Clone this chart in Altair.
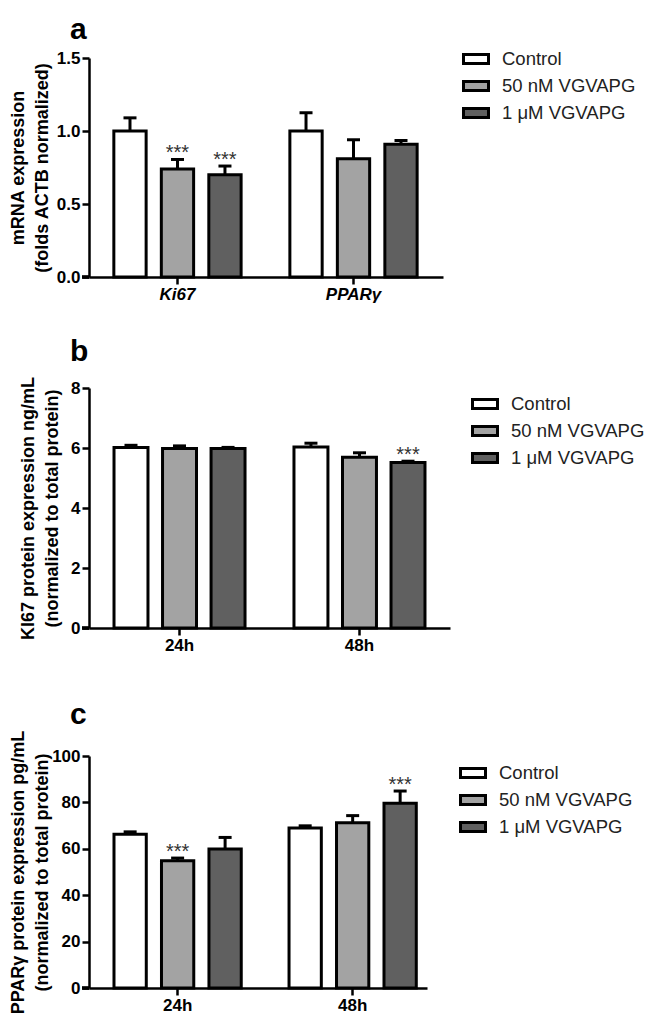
import altair as alt
import pandas as pd

GROUPS = ["Control", "50 nM VGVAPG", "1 μM VGVAPG"]
COLORS = ["#ffffff", "#a3a3a3", "#606060"]

A_CATS = ["Ki67", "PPARγ"]
A_MEAN = [1.00, 0.74, 0.70, 1.00, 0.81, 0.91]
A_ERR = [0.09, 0.065, 0.06, 0.125, 0.13, 0.025]
A_SIG = ["", "***", "***", "", "", ""]

B_CATS = ["24h", "48h"]
B_MEAN = [6.02, 5.98, 5.98, 6.03, 5.69, 5.52]
B_ERR = [0.07, 0.09, 0.04, 0.13, 0.15, 0.04]
B_SIG = ["", "", "", "", "", "***"]

C_CATS = ["24h", "48h"]
C_MEAN = [66.3, 54.9, 59.9, 69.0, 71.2, 79.6]
C_ERR = [1.0, 1.1, 5.0, 0.9, 3.1, 5.3]
C_SIG = ["", "***", "", "", "", "***"]

FONT = "Liberation Sans"


def panel(cats, mean, err, sig, letter, ytitle, ymax, yvals, yfmt, width, height,
          pi, po, align, pio, italic, lx, ly, tx, toff, spacer=None):
    df = pd.DataFrame({
        "cat": [c for c in cats for _ in GROUPS],
        "group": GROUPS * len(cats),
        "mean": mean,
        "err": err,
        "sig": sig,
    })
    df["top"] = df["mean"] + df["err"]
    x = alt.X("cat:N", sort=cats,
              scale=alt.Scale(paddingInner=pi, paddingOuter=po, align=align),
              axis=alt.Axis(title=None, labelAngle=0, labelPadding=2,
                            labelFontStyle="italic" if italic else "normal"))
    xo = alt.XOffset("group:N", sort=GROUPS,
                     scale=alt.Scale(domain=GROUPS, paddingInner=pio, paddingOuter=0))
    ysc = alt.Scale(domain=[0, ymax], nice=False)
    y = alt.Y("mean:Q", scale=ysc,
              axis=alt.Axis(values=yvals, format=yfmt, title=ytitle,
                            titleX=tx, titleY=height / 2, titleAngle=270,
                            titleAlign="center", titleBaseline="alphabetic"))
    base = alt.Chart(df)
    rule = base.mark_rule(color="black", strokeWidth=3).encode(
        x=x, xOffset=xo, y=alt.Y("mean:Q", scale=ysc), y2="top:Q")
    cap = base.mark_tick(color="black", thickness=3, size=13, opacity=1).encode(
        x=x, xOffset=xo, y=alt.Y("top:Q", scale=ysc))
    bars = base.mark_bar(stroke="black", strokeWidth=3, opacity=1).encode(
        x=x, xOffset=xo, y=y,
        fill=alt.Fill("group:N", sort=GROUPS,
                      scale=alt.Scale(domain=GROUPS, range=COLORS),
                      legend=alt.Legend(title=None, orient="none", legendX=lx, legendY=ly,
                                        symbolType="M-1,-0.36H1V0.36H-1Z",
                                        symbolSize=625, symbolStrokeColor="black",
                                        symbolStrokeWidth=3, symbolFillColor="white",
                                        labelFont=FONT, labelFontSize=18.5,
                                        labelColor="#222222", labelOffset=12,
                                        rowPadding=2)))
    text = base.mark_text(baseline="alphabetic", dy=0, fontSize=20, font=FONT,
                          color="#333333").encode(
        x=x, xOffset=xo, y=alt.Y("top:Q", scale=ysc), text="sig:N")
    # short stub of the x axis line extending left of the y axis (GraphPad style)
    stub = alt.Chart(df).mark_rule(color="black", strokeWidth=2.5).encode(
        x=alt.value(-7), x2=alt.value(0), y=alt.value(height))
    layers = [rule, cap, bars, text, stub]
    if spacer is not None:
        # invisible rule that reserves room below the panel
        layers.append(alt.Chart(df).mark_rule(opacity=0, strokeWidth=1).encode(
            x=alt.value(0), x2=alt.value(1), y=alt.value(height + spacer)))
    return alt.layer(*layers).properties(
        width=width, height=height,
        title=alt.Title(letter, anchor="start", frame="group", fontSize=30, font=FONT,
                        fontWeight="bold", dx=-19, offset=toff, color="black",
                        baseline="alphabetic"),
    )


pa = panel(A_CATS, A_MEAN, A_ERR, A_SIG, "a",
           ["mRNA expression", "(folds ACTB normalized)"],
           1.5, [0, 0.5, 1.0, 1.5], ".1f", 354, 219,
           0.277, 0.144, 0.49, 0.32, True, 373, -13, -66, -24)
pb = panel(B_CATS, B_MEAN, B_ERR, B_SIG, "b",
           ["KI67 protein expression ng/mL", "(normalized to total protein)"],
           8, [0, 2, 4, 6, 8], "d", 361, 240,
           0.272, 0.139, 0.5, 0.3, False, 382, 2, -56, -15, spacer=37)
pc = panel(C_CATS, C_MEAN, C_ERR, C_SIG, "c",
           ["PPARγ protein expression pg/mL", "(normalized to total protein)"],
           100, [0, 20, 40, 60, 80, 100], "d", 338, 232,
           0.273, 0.102, 0.7, 0.32, False, 370, 3, -66, -24)

chart = alt.vconcat(pa, pb, pc, spacing=35).resolve_scale(
    x="independent", y="independent", fill="independent", xOffset="independent"
).resolve_legend(fill="independent").properties(
    padding={"left": 0, "top": 7, "right": 0, "bottom": 0}
).configure_view(stroke=None).configure_axis(
    grid=False, domainColor="black", domainWidth=2.5, tickColor="black",
    tickWidth=2.5, tickSize=7, labelFont=FONT, labelFontSize=17,
    labelFontWeight="bold", labelColor="black", labelPadding=2,
    titleFont=FONT, titleFontSize=18, titleFontWeight="bold", titleColor="black",
    titleLineHeight=24,
)

chart.save("out.html", embed_options={"renderer": "svg", "actions": False})
